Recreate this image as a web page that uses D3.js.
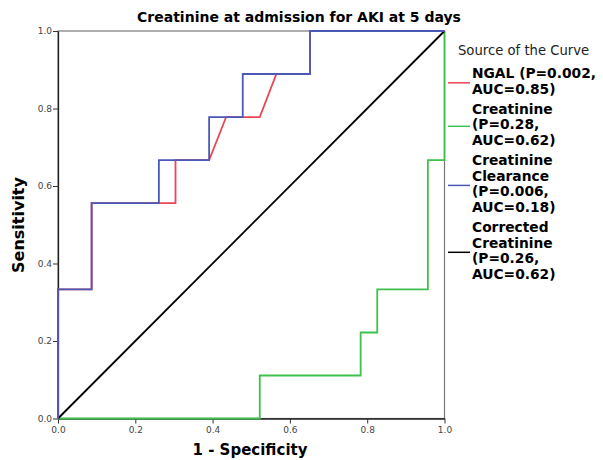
<!DOCTYPE html>
<html>
<head>
<meta charset="utf-8">
<script src="https://cdn.jsdelivr.net/npm/d3@7"></script>
<style>
  body { margin: 0; background: #fff; }
  text { font-family: "DejaVu Sans", sans-serif; }
</style>
</head>
<body>
<div id="chart"></div>
<script>
// ROC curves, x = 1 - specificity, y = sensitivity
var ngal = [[0,0],[0,0.333],[0.087,0.333],[0.087,0.556],[0.304,0.556],[0.304,0.667],[0.391,0.667],[0.435,0.778],[0.522,0.778],[0.565,0.889],[0.652,0.889],[0.652,1],[1,1]];
var creatinine = [[0,0],[0.522,0],[0.522,0.111],[0.783,0.111],[0.783,0.222],[0.826,0.222],[0.826,0.333],[0.957,0.333],[0.957,0.667],[1,0.667],[1,1]];
var clearance = [[0,0],[0,0.333],[0.087,0.333],[0.087,0.556],[0.261,0.556],[0.261,0.667],[0.391,0.667],[0.391,0.778],[0.478,0.778],[0.478,0.889],[0.652,0.889],[0.652,1],[1,1]];
var corrected = [[0,0],[1,1]];

var legendNames = [
  ["NGAL (P=0.002,", "AUC=0.85)"],
  ["Creatinine", "(P=0.28,", "AUC=0.62)"],
  ["Creatinine", "Clearance", "(P=0.006,", "AUC=0.18)"],
  ["Corrected", "Creatinine", "(P=0.26,", "AUC=0.62)"]
];
var colors = ["#ea4654", "#3fc04d", "#4a58b8", "#000000"];
var ticks = [0, 0.2, 0.4, 0.6, 0.8, 1.0];

var width = 603, height = 460;
var pLeft = 58, pRight = 444.5, pTop = 31, pBottom = 418.5;

var svg = d3.select("#chart").append("svg").attr("width", width).attr("height", height);

var x = d3.scaleLinear().domain([0, 1]).range([pLeft, pRight]);
var y = d3.scaleLinear().domain([0, 1]).range([pBottom, pTop]);

// frame
svg.append("rect").attr("x", pLeft).attr("y", pTop).attr("width", pRight - pLeft).attr("height", pBottom - pTop)
   .attr("fill", "none").attr("stroke", "#777").attr("stroke-width", 1.2);

var xAxis = svg.append("g").attr("transform", "translate(0," + pBottom + ")")
   .call(d3.axisBottom(x).tickValues(ticks).tickFormat(d3.format(".1f")).tickSize(5).tickSizeOuter(0));
var yAxis = svg.append("g").attr("transform", "translate(" + pLeft + ",0)")
   .call(d3.axisLeft(y).tickValues(ticks).tickFormat(d3.format(".1f")).tickSize(5).tickSizeOuter(0));
[xAxis, yAxis].forEach(function(a) {
  a.select(".domain").attr("stroke", "#222").attr("stroke-width", 1.3);
  a.selectAll(".tick line").attr("stroke", "#333");
  a.selectAll(".tick text").attr("font-family", "DejaVu Sans, sans-serif").attr("font-size", 9).attr("fill", "#444");
});
yAxis.selectAll(".tick text").attr("x", -6);
xAxis.selectAll(".tick text").attr("y", 8);

var line = d3.line().x(function(d) { return x(d[0]); }).y(function(d) { return y(d[1]); });

// draw order so blue sits over red
var order = [1, 3, 0, 2];
var series = [ngal, creatinine, clearance, corrected];
order.forEach(function(i) {
  svg.append("path").datum(series[i]).attr("d", line)
     .attr("fill", "none").attr("stroke", colors[i]).attr("stroke-width", 1.8);
});

// titles
svg.append("text").attr("x", 299).attr("y", 22).attr("text-anchor", "middle")
   .attr("font-size", 14).attr("font-weight", "bold").text("Creatinine at admission for AKI at 5 days");

svg.append("text").attr("x", 250).attr("y", 455).attr("text-anchor", "middle")
   .attr("font-size", 15).attr("font-weight", "bold").text("1 - Specificity");

svg.append("text").attr("transform", "translate(24,225) rotate(-90)").attr("text-anchor", "middle")
   .attr("font-size", 16).attr("font-weight", "bold").text("Sensitivity");

// legend
svg.append("text").attr("x", 458).attr("y", 55).attr("font-size", 13.2).attr("fill", "#222").text("Source of the Curve");

var lineH = 15.6, gap = 4.5, yy = 78;
legendNames.forEach(function(names, i) {
  var g = svg.append("g");
  names.forEach(function(n, j) {
    g.append("text").attr("x", 472).attr("y", yy + j * lineH).attr("font-size", 13.8).attr("font-weight", "bold").text(n);
  });
  var mid = yy - 5 + (names.length - 1) * lineH / 2 + 2;
  g.append("line").attr("x1", 448).attr("x2", 470).attr("y1", mid).attr("y2", mid)
   .attr("stroke", colors[i]).attr("stroke-width", 1.5);
  yy += names.length * lineH + gap;
});
</script>
</body>
</html>
